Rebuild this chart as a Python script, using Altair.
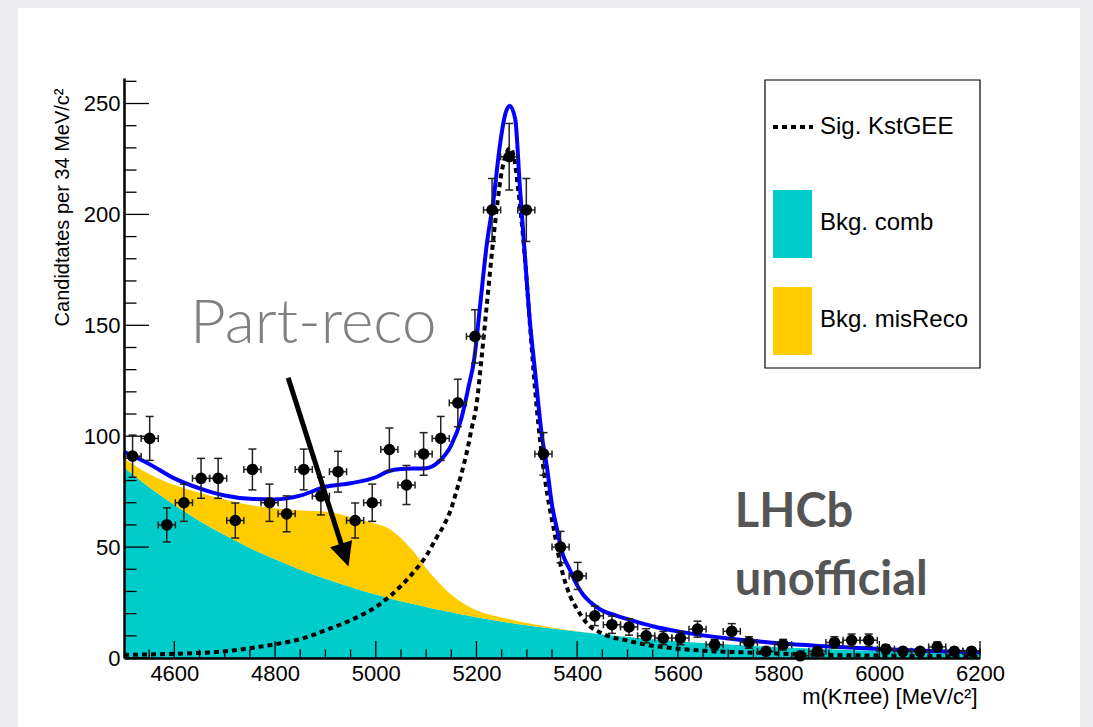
import altair as alt
import pandas as pd

# ---------------- data ----------------
# binned data: bin centres (34 MeV bins), counts, Poisson errors
bin_mass = [4517, 4551, 4585, 4619, 4653, 4687, 4721, 4755, 4789, 4823,
            4857, 4891, 4925, 4959, 4993, 5027, 5061, 5095, 5129, 5163,
            5197, 5231, 5265, 5299, 5333, 5367, 5401, 5435, 5469, 5503,
            5537, 5571, 5605, 5639, 5673, 5707, 5741, 5775, 5809, 5843,
            5877, 5911, 5945, 5979, 6013, 6047, 6081, 6115, 6149, 6183]
counts = [91, 99, 60, 70, 81, 81, 62, 85, 70, 65,
          85, 73, 84, 62, 70, 94, 78, 92, 99, 115,
          145, 202, 226, 202, 92, 50, 37, 19, 15, 14,
          10, 9, 9, 13, 6, 12, 7, 3, 6, 1,
          3, 7, 8, 8, 4, 3, 3, 5, 3, 3]
count_err = [9.5, 9.9, 7.7, 8.4, 9.0, 9.0, 7.9, 9.2, 8.4, 8.1,
             9.2, 8.5, 9.2, 7.9, 8.4, 9.7, 8.8, 9.6, 9.9, 10.7,
             12.0, 14.2, 15.0, 14.2, 9.6, 7.1, 6.1, 4.4, 3.9, 3.7,
             3.2, 3.0, 3.0, 3.6, 2.4, 3.5, 2.6, 1.7, 2.4, 1.0,
             1.7, 2.6, 2.8, 2.8, 2.0, 1.7, 1.7, 2.2, 1.7, 1.7]
half_bin = 17

# background components (stacked: comb at bottom, misReco on top)
bkg_mass = [4500, 4550, 4600, 4650, 4700, 4750, 4800, 4850, 4900, 4950,
            5000, 5025, 5050, 5075, 5100, 5125, 5150, 5175, 5200,
            5250, 5300, 5350, 5400, 5450, 5500,
            5600, 5700, 5800, 5900, 6000, 6100, 6200]
comb = [86.0, 77.0, 69.0, 61.8, 55.4, 49.6, 44.5, 39.8, 35.7, 32.0,
        28.6, 27.1, 25.6, 24.3, 23.0, 21.7, 20.6, 19.5, 18.4,
        16.5, 14.8, 13.3, 11.9, 10.6, 9.5,
        7.6, 6.1, 4.9, 4.0, 3.2, 2.5, 2.0]
misreco = [4.0, 6.0, 9.0, 12.7, 16.1, 19.4, 23.0, 26.7, 30.3, 31.5,
           31.9, 31.4, 28.4, 23.7, 17.5, 12.3, 7.9, 5.0, 3.1,
           1.8, 1.0, 0.5, 0.2, 0.0, 0.0,
           0.0, 0.0, 0.0, 0.0, 0.0, 0.0, 0.0]

# signal component (dotted)
sig_mass = [4500, 4600, 4700, 4750, 4800, 4850, 4900, 4950, 5000, 5050,
            5080, 5100, 5120, 5140, 5150, 5160, 5170, 5180, 5190, 5200,
            5210, 5220, 5235, 5250, 5260, 5267, 5275, 5283, 5296, 5306,
            5316, 5330, 5345, 5352, 5366, 5386, 5400, 5420, 5450, 5500,
            5550, 5600, 5650, 5750, 5850, 6000, 6200]
sig = [1.4, 1.9, 3.0, 4.4, 6.2, 8.5, 12.5, 17, 23, 32.5,
       40, 46, 54, 62, 67.5, 75, 83, 92, 103, 114,
       135, 158, 192, 219, 228, 230, 225, 211, 181, 151,
       122, 91, 68, 60, 43, 28, 22, 15.5, 11, 7.8,
       5.5, 4.2, 3.3, 2.4, 1.6, 1.1, 0.7]

# total fit (blue)
tot_mass = [4500, 4550, 4600, 4650, 4700, 4750, 4800, 4850, 4900, 4950,
            5000, 5025, 5050, 5100, 5125, 5150, 5170, 5185, 5195, 5207,
            5220, 5234, 5247, 5257, 5266, 5277, 5286, 5296, 5306, 5316,
            5330, 5340, 5350, 5360, 5371, 5385, 5397, 5412, 5427, 5445,
            5479, 5500, 5550, 5600, 5650, 5700, 5750, 5800, 5900, 6000,
            6100, 6200]
tot = [93, 87.5, 81, 76.5, 73.3, 71.8, 71.5, 73.2, 77.2, 78.8,
       81.5, 84.2, 85.2, 85.6, 88.5, 96, 108, 123, 134, 158.5,
       185.6, 207, 232, 245, 249, 243, 213, 182, 152, 130,
       100, 86, 69, 58, 47, 40, 34, 28.5, 25, 22,
       19, 17.5, 14.3, 12, 10.2, 8.8, 7.7, 6.6, 5.2, 4.1,
       3.2, 2.6]

# axis ticks / labels
x_labels = [4600, 4800, 5000, 5200, 5400, 5600, 5800, 6000, 6200]
x_minor = [v for v in range(4550, 6200, 50) if v not in x_labels]
y_labels = [0, 50, 100, 150, 200, 250]
y_minor = [v for v in range(10, 261, 10) if v not in y_labels]

# annotations (data coordinates)
arrow_mass = [4826, 4936]
arrow_val = [126.4, 48.1]
txt_mass = [4631, 5713, 5713]
txt_val = [142.1, 59.1, 28.4]
txt_label = ["Part-reco", "LHCb", "unofficial"]

legend_labels = ["Sig. KstGEE", "Bkg. comb", "Bkg. misReco"]

# ---------------- chart ----------------
FONT = "Liberation Sans"
W, H = 856, 580
xs = alt.Scale(domain=[4500, 6200], nice=False, zero=False)
ys = alt.Scale(domain=[0, 261.5], nice=False, zero=False)

xax = alt.Axis(values=x_labels, format="d", ticks=False, grid=False,
               domainColor="black", domainWidth=2.5,
               labelFont=FONT, labelFontSize=22, labelColor="black",
               labelPadding=5, labelOverlap=False, labelFlush=False,
               title="m(K\u03c0ee) [MeV/c\u00b2]", titleFont=FONT, titleFontSize=22,
               titleFontWeight="normal", titleColor="black",
               titleAnchor="end", titleAlign="right", titleBaseline="alphabetic",
               titleX=853, titleY=45, zindex=1)
yax = alt.Axis(values=y_labels, format="d", ticks=False, grid=False,
               domainColor="black", domainWidth=2.5,
               labelFont=FONT, labelFontSize=22, labelColor="black",
               labelPadding=4, labelOverlap=False, labelFlush=False,
               title="Candidtates per 34 MeV/c\u00b2", titleFont=FONT, titleFontSize=20,
               titleFontWeight="normal", titleColor="black",
               titleAngle=270, titleAlign="right", titleBaseline="middle",
               titleX=-62, titleY=10, zindex=1)


def X(f):
    return alt.X(f, type="quantitative", scale=xs, axis=xax)


def Y(f):
    return alt.Y(f, type="quantitative", scale=ys, axis=yax)


one = pd.DataFrame({"a": [0]})

card = alt.Chart(one).mark_rect(color="white").encode(
    x=alt.value(-106), x2=alt.value(956), y=alt.value(-70), y2=alt.value(649))

bkg = pd.DataFrame({"m": bkg_mass, "comb": comb, "mis": misreco})
bkg["top"] = bkg["comb"] + bkg["mis"]
bkg["zero"] = 0.0

comb_area = alt.Chart(bkg).mark_area(color="#00CCCC", interpolate="monotone", opacity=1).encode(
    x=X("m"), y=Y("zero"), y2="comb")
mis_area = alt.Chart(bkg).mark_area(color="#FFCC00", interpolate="monotone", opacity=1).encode(
    x=X("m"), y=Y("comb"), y2="top")

sig_df = pd.DataFrame({"m": sig_mass, "v": sig})
sig_line = alt.Chart(sig_df).mark_line(color="black", strokeWidth=4, strokeDash=[5, 4],
                                       interpolate="monotone").encode(x=X("m"), y=Y("v"))

tot_df = pd.DataFrame({"m": tot_mass, "v": tot})
tot_line = alt.Chart(tot_df).mark_line(color="#0000FF", strokeWidth=4,
                                       interpolate="monotone").encode(x=X("m"), y=Y("v"))

pts = pd.DataFrame({"m": bin_mass, "n": counts, "e": count_err})
pts["lo"] = pts["n"] - pts["e"]
pts["hi"] = pts["n"] + pts["e"]
pts["xl"] = pts["m"] - half_bin
pts["xr"] = pts["m"] + half_bin

EC = "#222222"
err_v = alt.Chart(pts).mark_rule(color=EC, strokeWidth=1.5).encode(x=X("m"), y=Y("lo"), y2="hi")
err_h = alt.Chart(pts).mark_rule(color=EC, strokeWidth=1.5).encode(x=X("xl"), x2="xr", y=Y("n"))
cap_lo = alt.Chart(pts).mark_tick(orient="horizontal", size=8, thickness=1.5, color=EC, opacity=1).encode(x=X("m"), y=Y("lo"))
cap_hi = alt.Chart(pts).mark_tick(orient="horizontal", size=8, thickness=1.5, color=EC, opacity=1).encode(x=X("m"), y=Y("hi"))
cap_l = alt.Chart(pts).mark_tick(orient="vertical", size=7, thickness=1.5, color=EC, opacity=1).encode(x=X("xl"), y=Y("n"))
cap_r = alt.Chart(pts).mark_tick(orient="vertical", size=7, thickness=1.5, color=EC, opacity=1).encode(x=X("xr"), y=Y("n"))
dots = alt.Chart(pts).mark_circle(size=135, color="black", opacity=1).encode(x=X("m"), y=Y("n"))

# inward ticks
xmaj = alt.Chart(pd.DataFrame({"t": x_labels})).mark_rule(color="black", strokeWidth=1.3).encode(
    x=X("t"), y=alt.value(H), y2=alt.value(H - 17))
xmin = alt.Chart(pd.DataFrame({"t": x_minor})).mark_rule(color="black", strokeWidth=1.3).encode(
    x=X("t"), y=alt.value(H), y2=alt.value(H - 8.5))
ymaj = alt.Chart(pd.DataFrame({"t": y_labels})).mark_rule(color="black", strokeWidth=1.3).encode(
    y=Y("t"), x=alt.value(0), x2=alt.value(25))
ymin = alt.Chart(pd.DataFrame({"t": y_minor})).mark_rule(color="black", strokeWidth=1.3).encode(
    y=Y("t"), x=alt.value(0), x2=alt.value(12.5))

# arrow
arr = pd.DataFrame({"m": arrow_mass, "v": arrow_val})
arrow_line = alt.Chart(arr).mark_line(color="black", strokeWidth=5).encode(x=X("m"), y=Y("v"))
arrow_head = alt.Chart(arr.iloc[[1]]).mark_point(
    shape="M0,1L-0.72,-0.5L0.72,-0.5Z", size=1024, filled=True, color="black",
    opacity=1, angle=342).encode(x=X("m"), y=Y("v"))

# annotation texts
ann = pd.DataFrame({"m": txt_mass, "v": txt_val, "t": txt_label})
part_reco = alt.Chart(ann.iloc[[0]]).mark_text(
    font="Lato", fontSize=62, fontWeight=300, color="#808080", align="left",
    baseline="alphabetic").encode(x=X("m"), y=Y("v"), text="t:N")
lhcb = alt.Chart(ann.iloc[[1, 2]]).mark_text(
    font="Lato", fontSize=47, fontWeight="bold", color="#555555", align="left",
    baseline="alphabetic").encode(x=X("m"), y=Y("v"), text="t:N")

# legend (layout in pixels)
leg_box = alt.Chart(one).mark_rect(fill="white", stroke="black", strokeWidth=1.2).encode(
    x=alt.value(641), x2=alt.value(W), y=alt.value(2), y2=alt.value(290))
leg_sig = alt.Chart(one).mark_rule(color="black", strokeWidth=4, strokeDash=[5, 4]).encode(
    x=alt.value(649), x2=alt.value(689), y=alt.value(49))
leg_comb = alt.Chart(one).mark_rect(color="#00CCCC").encode(
    x=alt.value(649), x2=alt.value(688), y=alt.value(112), y2=alt.value(180))
leg_mis = alt.Chart(one).mark_rect(color="#FFCC00").encode(
    x=alt.value(649), x2=alt.value(688), y=alt.value(209), y2=alt.value(277))
leg_txt = []
for lab, yy in zip(legend_labels, [49, 145, 242]):
    leg_txt.append(alt.Chart(one).mark_text(
        font=FONT, fontSize=24, color="black", align="left", baseline="middle", text=lab
    ).encode(x=alt.value(696), y=alt.value(yy)))

chart = alt.layer(
    card, comb_area, mis_area, sig_line, tot_line,
    err_v, err_h, cap_lo, cap_hi, cap_l, cap_r, dots,
    xmaj, xmin, ymaj, ymin,
    arrow_line, arrow_head, part_reco, lhcb,
    leg_box, leg_sig, leg_comb, leg_mis, *leg_txt
).properties(
    width=W, height=H,
    padding={"left": 124, "top": 78, "right": 1093 - 124 - W, "bottom": 727 - 78 - H},
    autosize=alt.AutoSizeParams(type="none"),
    background="#EDEDEF",
).configure_view(stroke="#333333", strokeWidth=1)

chart.save("out.html", embed_options={"renderer": "svg", "actions": False})
